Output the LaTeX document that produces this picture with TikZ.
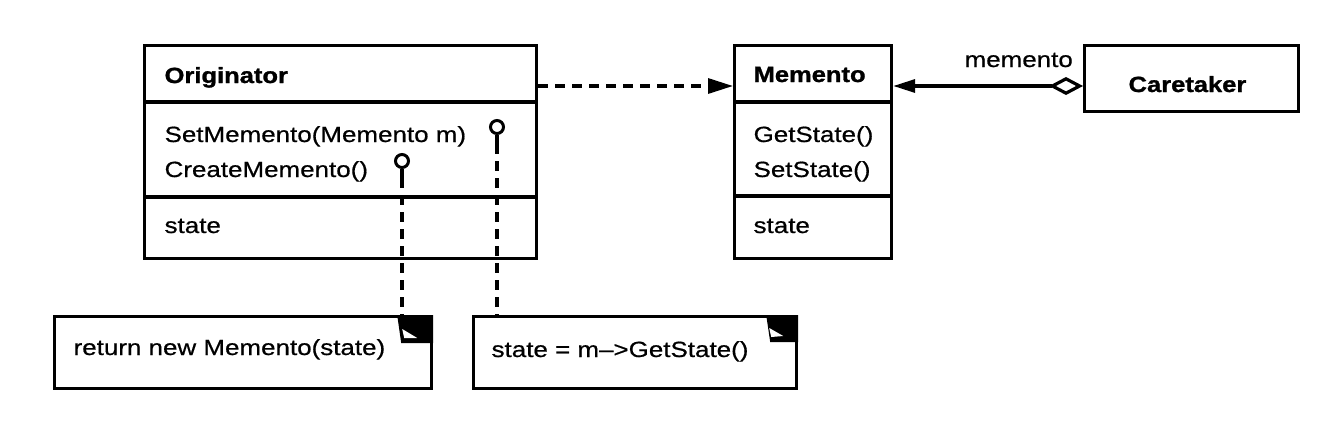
\documentclass[tikz,border=0pt]{standalone}
\usepackage{fontspec}
\setmainfont[FakeStretch=1.18]{Liberation Sans}
\newfontfamily\regfont[FakeStretch=1.18,FakeBold=0.6,Ligatures=TeX]{Liberation Sans}
\newfontfamily\heavyfont[FakeStretch=1.16,FakeBold=1.2]{Liberation Sans Bold}
\usetikzlibrary{arrows.meta,calc}
\begin{document}
\begin{tikzpicture}[x=1pt,y=-1pt, line width=3.2pt,
  cls/.style={draw, rectangle, inner sep=0pt, anchor=north west},
  txt/.style={anchor=base west, inner sep=0pt, font=\regfont\fontsize{22}{26}\selectfont},
  btxt/.style={anchor=base west, inner sep=0pt, font=\heavyfont\fontsize{22}{26}\selectfont},
  pin/.style={circle, draw, minimum size=13pt, inner sep=0pt, line width=3pt},
  dsh/.style={dash pattern=on 10pt off 7pt},
]
\useasboundingbox[fill=white] (0,0) rectangle (1330,421);

% class boxes
\node[cls, minimum width=392pt, minimum height=213pt] (orig) at (143,44) {};
\node[cls, minimum width=157pt, minimum height=213pt] (mem) at (733,44) {};
\node[cls, minimum width=214pt, minimum height=66pt] (care) at (1083,44) {};

\draw (orig.west |- 0,102) -- (orig.east |- 0,102);
\draw (orig.west |- 0,197) -- (orig.east |- 0,197);
\draw (mem.west |- 0,102) -- (mem.east |- 0,102);
\draw (mem.west |- 0,196) -- (mem.east |- 0,196);

% texts
\node[btxt] (tOrig) at (163,83) {Originator};
\node[txt] (tSetM) at (163,142) {SetMemento(Memento m)};
\node[txt] (tCreM) at (163,177) {CreateMemento()};
\node[txt] (tOst) at (163,233) {state};
\node[btxt] (tMem) at (752,82) {Memento};
\node[txt] (tGet) at (752,142) {GetState()};
\node[txt] (tSet) at (752,177) {SetState()};
\node[txt] (tMst) at (752,233) {state};
\node[btxt] (tCare) at (1127,92) {Caretaker};
\node[txt] (lbl) at (963,67) {memento};

% notes
\node[cls, minimum width=377pt, minimum height=72pt] (note1) at (53,315) {};
\node[cls, minimum width=323pt, minimum height=72pt] (note2) at (472,315) {};
\node[txt] (tN1) at (72,355) {return new Memento(state)};
\node[txt] (tN2) at (490,357) {state = m\textendash>GetState()};

% folded corners
\fill (note1.north east) ++(-36,0) -- (note1.north east) -- ++(0,28) -- ++(-32,0) -- cycle;
\fill[white] (note1.north east) ++(-31,14) -- ++(2,9) -- ++(13,0) -- cycle;
\fill (note2.north east) ++(-32,0) -- (note2.north east) -- ++(0,27) -- ++(-28,0) -- cycle;
\fill[white] (note2.north east) ++(-29,13) -- ++(2,9) -- ++(12,-1) -- cycle;

% pins and note links
\node[pin] (pin1) at (497,127) {};
\node[pin] (pin2) at (402,161) {};
\draw (pin1.south) -- ++(0,9) coordinate (p1e);
\draw (pin2.south) -- ++(0,9) coordinate (p2e);
\draw[dsh] (p1e) -- (p1e |- note2.north);
\draw[dsh] (p2e) -- (p2e |- note1.north);

% dependency
\draw[dsh, -{Triangle[length=25pt,width=15pt]}] (orig.east |- 0,86) -- (mem.west |- 0,86);

% aggregation
\draw[{Triangle[length=22pt,width=13pt]}-{Diamond[open,length=34pt,width=18pt]}] (mem.east |- 0,86) -- (care.west |- 0,86);
\end{tikzpicture}
\end{document}
